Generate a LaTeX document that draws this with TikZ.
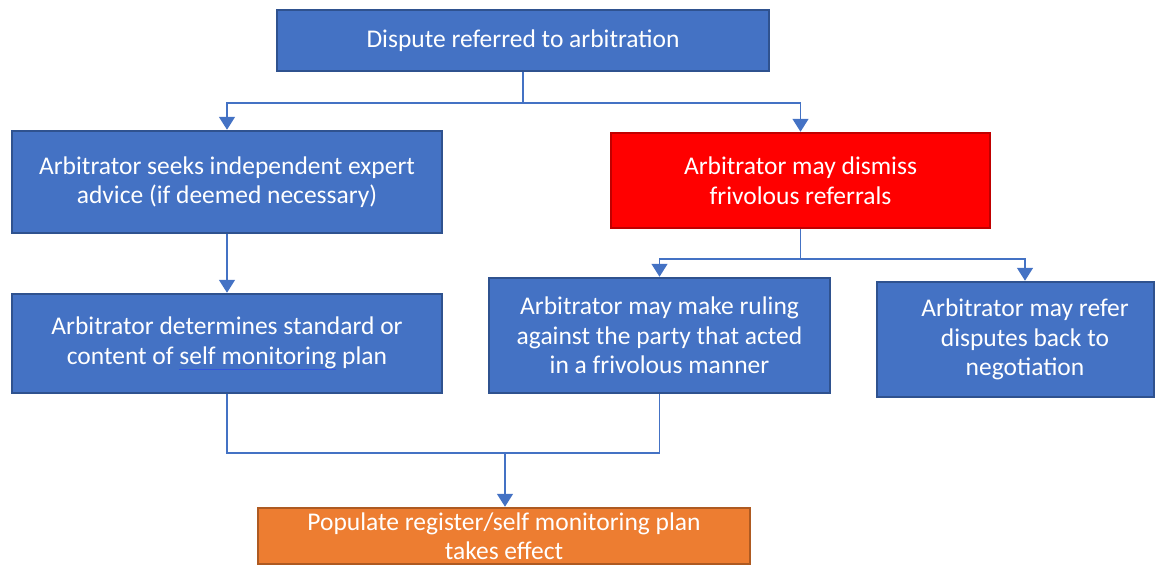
\documentclass[tikz,border=0pt]{standalone}
\usepackage{fontspec}
\setmainfont{Carlito}
\usetikzlibrary{arrows.meta,calc}

\definecolor{boxblue}{HTML}{4472C4}
\definecolor{boxblueline}{HTML}{2F528F}
\definecolor{boxred}{HTML}{FF0000}
\definecolor{boxredline}{HTML}{C00000}
\definecolor{boxorange}{HTML}{ED7D31}
\definecolor{boxorangeline}{HTML}{AE5A21}
\definecolor{linkblue}{HTML}{4472C4}
\definecolor{squig}{HTML}{3355DD}

% grammar-check style underline below a phrase
\newlength{\markedlen}
\newcommand{\markedword}[1]{\settowidth{\markedlen}{#1}%
  \rlap{\textcolor{squig}{\rule[-6pt]{\markedlen}{1.6pt}}}#1}

\begin{document}
\begin{tikzpicture}[x=1pt,y=-1pt,
  basebox/.style={rectangle, inner sep=0pt, line width=2.5pt, text=white,
    align=center, font=\fontsize{25.5}{29.5}\selectfont},
  bluebox/.style={basebox, fill=boxblue, draw=boxblueline},
  redbox/.style={basebox, fill=boxred, draw=boxredline},
  orangebox/.style={basebox, fill=boxorange, draw=boxorangeline},
  link/.style={draw=linkblue, line width=1.6pt},
  linkarrow/.style={link, -{Triangle[width=16pt,length=13pt]}},
  label/.style={inner sep=0pt, text=white, align=center,
    font=\fontsize{25.5}{29.5}\selectfont}
]
\useasboundingbox (0,0) rectangle (1155,566);
\clip (0,0) rectangle (1155,566);

% boxes
\node[bluebox, minimum width=492pt, minimum height=61pt] (start) at (523,40.5)
  {Dispute referred to arbitration};
\node[bluebox, minimum width=430pt, minimum height=102pt] (expert) at (227,182)
  {Arbitrator seeks independent expert\\advice (if deemed necessary)};
\node[redbox, minimum width=379pt, minimum height=95pt] (dismiss) at (800.5,180.5)
  {Arbitrator may dismiss\\frivolous referrals};
\node[bluebox, minimum width=430pt, minimum height=99pt] (standard) at (227,343.5)
  {Arbitrator determines standard or\\content of \markedword{self monitoring} plan};
\node[bluebox, minimum width=341pt, minimum height=115pt] (ruling) at (659.5,335.5)
  {Arbitrator may make ruling\\against the party that acted\\in a frivolous manner};
\node[bluebox, minimum width=277pt, minimum height=115pt] (refer) at (1015.5,339.5) {};
\node[label] (refertext) at (1025,339.5)
  {Arbitrator may refer\\disputes back to\\negotiation};
\node[orangebox, minimum width=492pt, minimum height=56pt] (populate) at (504,536)
  {Populate register/self monitoring plan\\takes effect};

% junction points
\coordinate (split1) at ($(start.south)+(0,31)$);
\coordinate (split2) at ($(dismiss.south)+(0,30)$);
\coordinate (referin) at (refer.north -| refertext);
\coordinate (merge) at (505,453);

% connectors
\draw[link] (start.south) -- (split1);
\draw[linkarrow] (split1) -| (expert.north);
\draw[linkarrow] (split1) -| (dismiss.north);
\draw[linkarrow] (expert.south) -- (standard.north);
\draw[link] (dismiss.south) -- (split2);
\draw[linkarrow] (split2) -| (ruling.north);
\draw[linkarrow] (split2) -| (referin);
\draw[link] (standard.south) |- (merge) -| (ruling.south);
\draw[linkarrow] (merge) -- (merge |- populate.north);
\end{tikzpicture}
\end{document}
